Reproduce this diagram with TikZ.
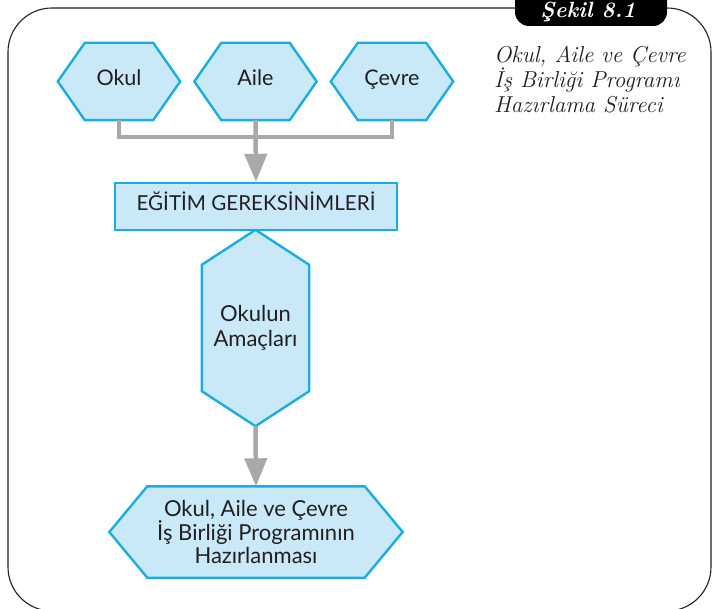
\documentclass[tikz,border=0pt]{standalone}
\usepackage{fontspec}
\setsansfont{Lato}
\usetikzlibrary{arrows.meta,backgrounds}
\definecolor{hexfill}{HTML}{C9E9F9}
\definecolor{hexline}{HTML}{1AADE4}
\definecolor{connc}{HTML}{A7A9AC}
\definecolor{inkc}{HTML}{231F20}
\tikzset{
  boxtext/.style={inner sep=0pt, text=inkc, font=\sffamily\fontsize{22}{25}\selectfont, align=center},
  oneline/.style={text height=0.72em, text depth=0pt},
  hexsty/.style={fill=hexfill, draw=hexline, line width=2.4pt, line join=miter},
  conn/.style={draw=connc, line width=4.5pt},
  tip/.style={-{Triangle[width=22pt,length=28pt]}},
  frame/.style={draw=inkc, line width=1.1pt}
}
\newcommand\hexH[2]{\begin{pgfonlayer}{background}\path[hexsty] (#1.west) -- ([xshift=#2]#1.north west) -- ([xshift=-#2]#1.north east) -- (#1.east) -- ([xshift=-#2]#1.south east) -- ([xshift=#2]#1.south west) -- cycle;\end{pgfonlayer}}
\newcommand\hexV[2]{\begin{pgfonlayer}{background}\path[hexsty] (#1.north) -- ([yshift=-#2]#1.north east) -- ([yshift=#2]#1.south east) -- (#1.south) -- ([yshift=#2]#1.south west) -- ([yshift=-#2]#1.north west) -- cycle;\end{pgfonlayer}}
\begin{document}
\begin{tikzpicture}[x=1pt,y=-1pt]
\useasboundingbox (0,0) rectangle (715,609);
% frame
\draw[frame, rounded corners=44pt] (8,8) rectangle (711,611);
% tab
\fill[black, rounded corners=14pt] (515,-15) rectangle (667,26);
\node[text=white, font=\bfseries\itshape\fontsize{22}{24}\selectfont, inner sep=0pt] (tab) at (588,12) {Şekil 8.1};
% caption
\node[anchor=base west, align=left, inner sep=0pt, text=inkc, font=\itshape\fontsize{23}{25}\selectfont] (cap) at (494,113) {Okul, Aile ve Çevre\\İş Birliği Programı\\Hazırlama Süreci};
% top hexagons
\node[boxtext, oneline, font=\sffamily\fontsize{21.5}{25}\selectfont, minimum width=122pt, minimum height=77pt] (okul) at (119,81.5) {Okul};
\node[boxtext, oneline, font=\sffamily\fontsize{21.5}{25}\selectfont, minimum width=122pt, minimum height=77pt] (aile) at (255.5,81.5) {Aile};
\node[boxtext, oneline, font=\sffamily\fontsize{21.5}{25}\selectfont, minimum width=122pt, minimum height=77pt] (cevre) at (392,81.5) {Çevre};
\hexH{okul}{27pt}\hexH{aile}{27pt}\hexH{cevre}{27pt}
% egitim
\node[boxtext, oneline, font=\sffamily\fontsize{20.6}{25}\selectfont, minimum width=282pt, minimum height=47pt, fill=hexfill, draw=hexline, line width=2.4pt] (egitim) at (256,206.5) {EĞİTİM GEREKSİNİMLERİ};
% okulun amaclari
\node[boxtext, minimum width=107pt, minimum height=196pt] (amac) at (255.5,328) {Okulun\\Amaçları};
\hexV{amac}{35pt}
% bottom
\node[boxtext, minimum width=293pt, minimum height=91pt, font=\sffamily\fontsize{22}{23}\selectfont] (hazir) at (256,532) {Okul, Aile ve Çevre\\İş Birliği Programının\\Hazırlanması};
\hexH{hazir}{38pt}
% connectors
\coordinate (jn) at (255.5,137);
\draw[conn] (okul.south) |- (jn) -| (cevre.south);
\draw[conn, tip] (aile.south) -- (egitim.north);
\draw[conn, tip] (amac.south) -- (hazir.north);
\end{tikzpicture}
\end{document}
